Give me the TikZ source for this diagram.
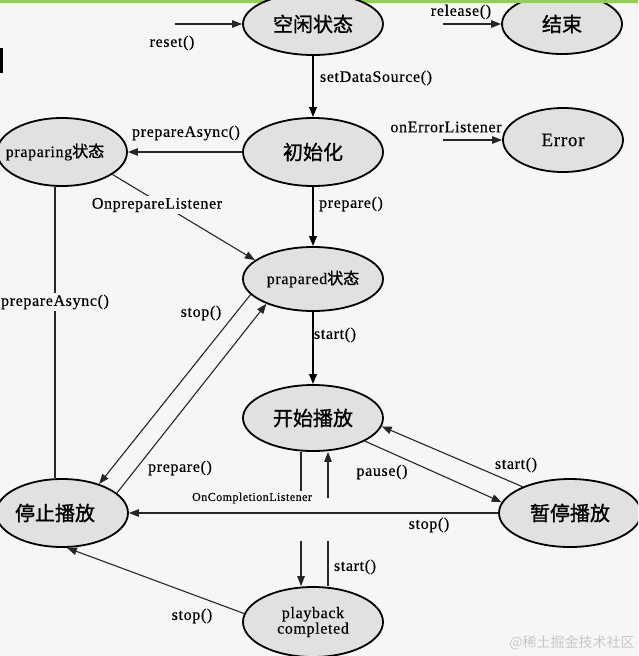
\documentclass[tikz,border=0pt]{standalone}
\usepackage{fontspec}
\setmainfont[LetterSpace=4, FakeBold=0.4]{Liberation Serif}
\newfontfamily\cjk[FakeBold=1.2]{Noto Sans CJK SC}
\newfontfamily\cjkwm{Noto Sans CJK SC}
\usetikzlibrary{arrows.meta,shapes.geometric,calc}
\definecolor{bgc}{RGB}{246,246,246}
\definecolor{stfill}{RGB}{225,225,225}
\definecolor{topgreen}{RGB}{146,208,80}
\definecolor{wm}{RGB}{200,200,200}
\begin{document}
\begin{tikzpicture}[x=1pt,y=-1pt,
  st/.style={ellipse, draw=black, line width=1.8pt, fill=stfill, inner sep=0pt,
             font=\cjk\fontsize{20}{24}\selectfont},
  sm/.style={font=\fontsize{16}{18}\selectfont},
  lbl/.style={font=\fontsize{16}{19}\selectfont, inner sep=1pt},
  conn/.style={line width=1.1pt, draw=black!85, -{Triangle[length=10pt,width=7.5pt]}},
  heavy/.style={line width=1.8pt, draw=black},
  plainconn/.style={line width=1.1pt, draw=black!85}
]
\useasboundingbox (0,0) rectangle (638,656);
\clip (0,0) rectangle (638,656);
\fill[bgc] (0,0) rectangle (638,656);

\node[st, minimum width=120pt, minimum height=60pt] (end) at (562,24) {\makebox[0pt]{结束}};
\draw[topgreen, line width=3pt] (0,1.5) -- (638,1.5);
\fill[black] (0,48) rectangle (3,73);

\node[st, minimum width=140pt, minimum height=62pt] (idle) at (313,24) {\makebox[0pt]{空闲状态}};
\node[st, minimum width=120pt, minimum height=64pt, font=\fontsize{19}{22}\selectfont] (error) at (563,140) {\makebox[0pt]{Error}};
\node[st, minimum width=140pt, minimum height=68pt] (init) at (313,152) {\makebox[0pt]{初始化}};
\node[st, minimum width=130pt, minimum height=68pt, sm] (praparing) at (62,152) {\makebox[0pt]{\kern-14pt praparing{\cjk 状态}}};
\node[st, minimum width=140pt, minimum height=64pt, sm] (prapared) at (313,279) {\makebox[0pt]{prapared{\cjk 状态}}};
\node[st, minimum width=140pt, minimum height=66pt] (playing) at (313,418) {\makebox[0pt]{开始播放}};
\node[st, minimum width=142pt, minimum height=68pt] (paused) at (570,513) {\makebox[0pt]{暂停播放}};
\node[st, minimum width=132pt, minimum height=68pt] (stopped) at (62,513) {\makebox[0pt]{\kern-14pt 停止播放}};
\node[st, minimum width=140pt, minimum height=70pt, sm] (completed) at (313,622)
  {\makebox[0pt]{\shortstack{playback\\[-2pt]completed}}};

\coordinate (resetS) at (175,24);
\coordinate (relS) at (443,24);
\coordinate (errS) at (443,140);

% connectors
\draw[conn] (resetS) -- (idle.west);
\draw[conn] (relS) -- (end.west);
\draw[conn, heavy] (idle.south) -- (init.north);
\draw[conn] (errS) -- (error.west);
\draw[conn] (init.west) -- (praparing.east);
\draw[conn, heavy] (init.south) -- (prapared.north);
\draw[conn] (praparing.336) -- (prapared.162);
\draw[plainconn] ([xshift=-7pt]praparing.south) -- ([xshift=-7pt]stopped.north);
\draw[conn] (prapared.194) -- (stopped.38);
\draw[conn] (stopped.20) -- (prapared.208);
\draw[conn, heavy] (prapared.south) -- (playing.north);
\draw[conn] (playing.336) -- (paused.171);
\draw[conn] (paused.151) -- (playing.353);
\draw[conn] (paused.west) -- (stopped.east);
\draw[plainconn] ([xshift=-12pt]playing.south) -- +(0,39);
\draw[conn] ([xshift=-12pt]completed.north) ++(0,-45) -- ([xshift=-12pt]completed.north);
\draw[plainconn] ([xshift=15pt]completed.north) -- +(0,-45);
\draw[conn] ([xshift=15pt]playing.south) ++(0,46) -- ([xshift=15pt]playing.south);
\draw[conn] (completed.173) -- (stopped.278);

% labels
\node[lbl] (lreset) at (172,43) {reset()};
\node[lbl] (lrel) at (461,12) {release()};
\node[lbl] (lsds) at (376,78) {setDataSource()};
\node[lbl] (lerr) at (446,127) {onErrorListener};
\node[lbl] (lpa1) at (186,133) {prepareAsync()};
\node[lbl] (lprep1) at (351,204) {prepare()};
\node[lbl, fill=bgc, inner sep=2pt] (lopl) at (157,205) {OnprepareListener};
\node[lbl, fill=bgc, inner sep=2pt] (lpa2) at (55,302) {prepareAsync()};
\node[lbl] (lstop1) at (201,313) {stop()};
\node[lbl] (lprep2) at (180,468) {prepare()};
\node[lbl] (lstart1) at (335,335) {start()};
\node[lbl] (lpause) at (382,472) {pause()};
\node[lbl] (lstart2) at (516,465) {start()};
\node[lbl] (lstop2) at (429,525) {stop()};
\node[lbl, font=\fontsize{12}{14}\selectfont] (locl) at (252,498) {OnCompletionListener};
\node[lbl] (lstart3) at (355,567) {start()};
\node[lbl] (lstop3) at (192,616) {stop()};

\node[text=wm, font=\cjkwm\fontsize{14}{16}\selectfont, inner sep=0pt] (wmark) at (572,643) {@稀土掘金技术社区};
\end{tikzpicture}
\end{document}
